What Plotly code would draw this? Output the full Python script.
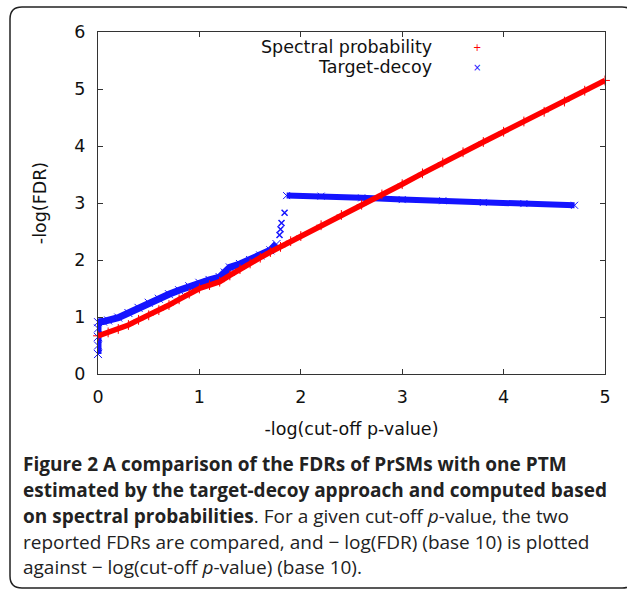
import plotly.graph_objects as go

# ---- data ----
sp_x = [0.0, 0.1, 0.2, 0.3, 0.4, 0.5, 0.6, 0.7, 0.8, 0.9, 1.0, 1.1, 1.2, 1.3, 1.4,
        1.5, 1.6, 1.7, 1.8, 1.9, 2.0, 2.2, 2.4, 2.6, 2.8, 3.0, 3.2, 3.4, 3.6, 3.8,
        4.0, 4.2, 4.4, 4.6, 4.8, 5.0]
sp_y = [0.67, 0.73, 0.79, 0.86, 0.95, 1.03, 1.12, 1.21, 1.31, 1.41, 1.50, 1.56, 1.62,
        1.73, 1.84, 1.94, 2.04, 2.14, 2.23, 2.33, 2.42, 2.61, 2.79, 2.97, 3.15, 3.33,
        3.52, 3.71, 3.89, 4.07, 4.25, 4.43, 4.60, 4.78, 4.97, 5.15]

td_low_x = [0.0, 0.0, 0.0, 0.0, 0.0, 0.05, 0.1, 0.2, 0.3, 0.4, 0.5, 0.6, 0.7, 0.8, 0.9,
            1.0, 1.1, 1.2, 1.25, 1.3, 1.4, 1.5, 1.6, 1.7, 1.76]
td_low_y = [0.35, 0.5, 0.65, 0.8, 0.91, 0.92, 0.94, 0.99, 1.07, 1.16, 1.25, 1.32, 1.40,
            1.47, 1.54, 1.60, 1.65, 1.70, 1.78, 1.87, 1.93, 2.00, 2.08, 2.17, 2.28]
td_jump_x = [1.79, 1.80, 1.81, 1.84]
td_jump_y = [2.44, 2.54, 2.65, 2.83]
td_high_x = [1.86, 2.2, 2.6, 3.0, 3.4, 3.8, 4.2, 4.7]
td_high_y = [3.13, 3.12, 3.09, 3.06, 3.04, 3.01, 2.99, 2.96]

x_ticks = [0, 1, 2, 3, 4, 5]
y_ticks = [0, 1, 2, 3, 4, 5, 6]
series_names = ["Spectral probability", "Target-decoy"]
x_title = "-log(cut-off p-value)"
y_title = "-log(FDR)"
caption_lines = [
    "<b>Figure 2 A comparison of the FDRs of PrSMs with one PTM</b>",
    "<b>estimated by the target-decoy approach and computed based</b>",
    "<b>on spectral probabilities</b>. For a given cut-off <i>p</i>-value, the two",
    "reported FDRs are compared, and \u2212 log(FDR) (base 10) is plotted",
    "against \u2212 log(cut-off <i>p</i>-value) (base 10).",
]

# ---- layout geometry (pixels) ----
W, H = 627, 589
L, R, T, B = 98, 605, 32, 374


def px(xp):
    return (xp - L) / (R - L)


def py(yp):
    return (B - yp) / (B - T)


RED = "rgb(255,0,0)"
BLUE = "rgb(20,20,255)"
FONT = "DejaVu Sans"

fig = go.Figure()

fig.add_trace(go.Scatter(x=td_low_x, y=td_low_y, mode="lines+markers",
                         line=dict(color=BLUE, width=7),
                         marker=dict(symbol="x-thin", size=8, line=dict(color=BLUE, width=1)),
                         cliponaxis=False, showlegend=False, name=series_names[1]))
fig.add_trace(go.Scatter(x=td_jump_x, y=td_jump_y, mode="markers",
                         marker=dict(symbol="x-thin", size=6, line=dict(color=BLUE, width=1.5)),
                         showlegend=False, name=series_names[1]))
fig.add_trace(go.Scatter(x=td_high_x, y=td_high_y, mode="lines+markers",
                         line=dict(color=BLUE, width=6),
                         marker=dict(symbol="x-thin", size=7, line=dict(color=BLUE, width=1)),
                         showlegend=False, name=series_names[1]))
fig.add_trace(go.Scatter(x=sp_x, y=sp_y, mode="lines+markers",
                         line=dict(color=RED, width=5.5),
                         marker=dict(symbol="cross-thin", size=7, line=dict(color=RED, width=1)),
                         cliponaxis=False, showlegend=False, name=series_names[0]))

axis_common = dict(showline=True, linecolor="#333", linewidth=1, mirror="ticks",
                   ticks="inside", ticklen=5, tickcolor="#333", showgrid=False,
                   zeroline=False, tickfont=dict(family=FONT, size=17.5, color="#111"))

fig.update_xaxes(range=[0, 5], tickvals=x_ticks, ticklabelstandoff=7,
                 title=dict(text=x_title, font=dict(family=FONT, size=17.5, color="#111"),
                            standoff=16), **axis_common)
fig.update_yaxes(range=[0, 6], tickvals=y_ticks, ticklabelstandoff=8,
                 title=dict(text=y_title, font=dict(family=FONT, size=17.5, color="#111"),
                            standoff=23), **axis_common)

annotations = []
# legend (text right-aligned, symbol to the right, gnuplot style)
annotations.append(dict(x=px(434), y=py(47), xref="paper", yref="paper", text=series_names[0],
                        showarrow=False, xanchor="right", yanchor="middle",
                        font=dict(family=FONT, size=17.5, color="#111")))
annotations.append(dict(x=px(434), y=py(67), xref="paper", yref="paper", text=series_names[1],
                        showarrow=False, xanchor="right", yanchor="middle",
                        font=dict(family=FONT, size=17.5, color="#111")))
annotations.append(dict(x=px(477), y=py(47), xref="paper", yref="paper", text="+",
                        showarrow=False, xanchor="center", yanchor="middle",
                        font=dict(family=FONT, size=10, color=RED)))
annotations.append(dict(x=px(477), y=py(67), xref="paper", yref="paper", text="\u00d7",
                        showarrow=False, xanchor="center", yanchor="middle",
                        font=dict(family=FONT, size=10, color=BLUE)))

# caption
cap_centers = [464, 490, 516, 542, 567]
for line, yc in zip(caption_lines, cap_centers):
    annotations.append(dict(x=px(21), y=py(yc), xref="paper", yref="paper", text=line,
                            showarrow=False, xanchor="left", yanchor="middle", align="left",
                            font=dict(family="Open Sans", size=19, color="#222")))

# rounded frame around figure + caption
x0, x1, y0, y1, r = 10, 634, 7, 588, 12
path = (f"M {px(x0)},{py(y0 + r)} Q {px(x0)},{py(y0)} {px(x0 + r)},{py(y0)} "
        f"L {px(x1 - r)},{py(y0)} Q {px(x1)},{py(y0)} {px(x1)},{py(y0 + r)} "
        f"L {px(x1)},{py(y1 - r)} Q {px(x1)},{py(y1)} {px(x1 - r)},{py(y1)} "
        f"L {px(x0 + r)},{py(y1)} Q {px(x0)},{py(y1)} {px(x0)},{py(y1 - r)} Z")

fig.update_layout(
    width=W, height=H,
    margin=dict(l=L, r=W - R, t=T, b=H - B, autoexpand=False),
    paper_bgcolor="white", plot_bgcolor="white",
    showlegend=False,
    annotations=annotations,
    shapes=[dict(type="path", path=path, xref="paper", yref="paper",
                 line=dict(color="#222", width=1.5), layer="below")],
)

fig.write_html("out.html")
